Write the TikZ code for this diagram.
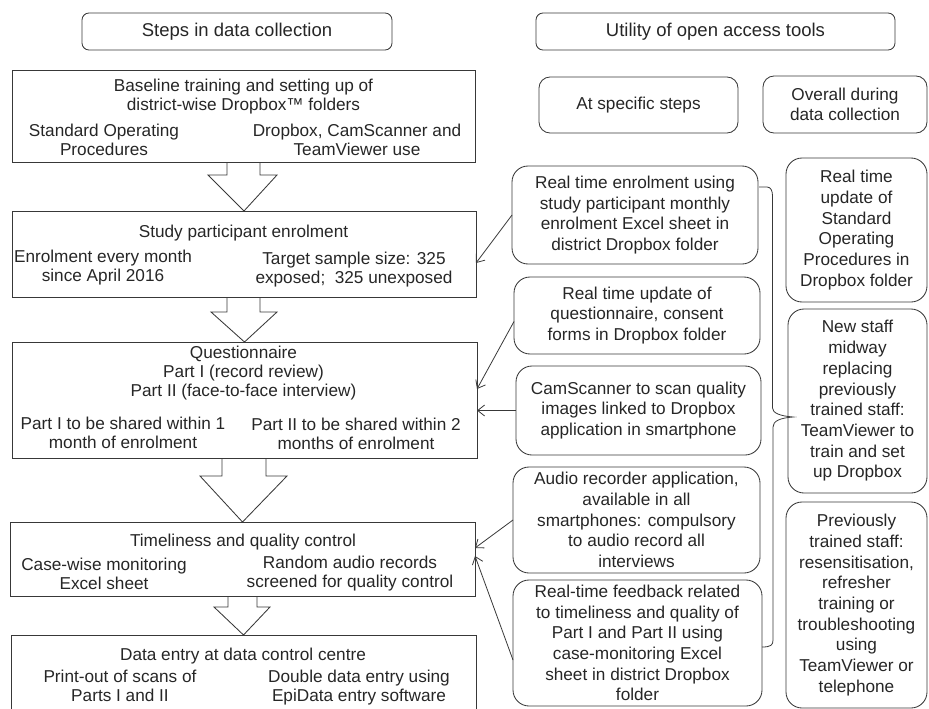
\documentclass[tikz,border=0pt]{standalone}
\usepackage{fontspec}
\setmainfont{Liberation Sans}
\usetikzlibrary{arrows.meta,calc}
\definecolor{ink}{gray}{0.15}
\definecolor{lineink}{gray}{0.22}
\begin{document}
\begin{tikzpicture}[x=1pt,y=-1pt,
  every node/.style={inner sep=0pt,outer sep=0pt,text=ink},
  hdr/.style={draw=lineink,line width=0.85pt,rounded corners=7pt,font=\fontsize{18.5}{21}\selectfont},
  lbox/.style={draw=lineink,line width=0.85pt},
  rbox/.style={draw=lineink,line width=0.85pt,rounded corners=16pt,align=center,font=\fontsize{17.2}{20.7}\selectfont},
  sbox/.style={draw=lineink,line width=0.85pt,rounded corners=11pt,align=center,font=\fontsize{17.2}{20.7}\selectfont},
  txt/.style={align=center,font=\fontsize{17.2}{19}\selectfont},
  blk/.style={draw=lineink,line width=0.85pt},
  conn/.style={draw=lineink,line width=0.8pt,-{Straight Barb[length=7pt,width=11pt]}},
  brc/.style={draw=lineink,line width=0.8pt}]
\useasboundingbox (0,0) rectangle (929,709);
\clip (0,0) rectangle (929,709);
% headers
\node[hdr,minimum width=310pt,minimum height=37pt] (h1) at (237,31.5) {Steps in data collection};
\node[hdr,minimum width=359pt,minimum height=37pt] (h2) at (715.5,31.5) {Utility of open access tools};
\node[sbox,minimum width=199pt,minimum height=56pt] (s1) at (638.5,105) {At specific steps};
\node[sbox,minimum width=164pt,minimum height=57pt] (s2) at (845,104.5) {Overall during\\data collection};
% left boxes
\node[lbox,minimum width=463pt,minimum height=92pt] (b1) at (243.5,116) {};
\node[txt] (b1t) at (243.5,96.5) {Baseline training and setting up of\\district-wise Dropbox™ folders};
\node[txt] (b1l) at (104,140) {Standard Operating\\Procedures};
\node[txt] (b1r) at (357,140) {Dropbox, CamScanner and\\TeamViewer use};
\node[lbox,minimum width=464pt,minimum height=86pt] (b2) at (244,254) {};
\node[txt] (b2t) at (243.5,233) {Study participant enrolment};
\node[txt] (b2l) at (103,267.5) {Enrolment every month\\since April 2016};
\node[txt] (b2r) at (354,270) {Target sample size: 325\\exposed;\ \ 325 unexposed};
\node[lbox,minimum width=465pt,minimum height=116pt] (b3) at (244.5,400) {};
\node[txt] (b3t) at (243.5,373) {Questionnaire\\Part I (record review)\\Part II (face-to-face interview)};
\node[txt] (b3l) at (123,432.5) {Part I to be shared within 1\\month of enrolment};
\node[txt] (b3r) at (356,433.5) {Part II to be shared within 2\\months of enrolment};
\node[lbox,minimum width=465pt,minimum height=74pt] (b4) at (242.5,559) {};
\node[txt] (b4t) at (243,542) {Timeliness and quality control};
\node[txt] (b4l) at (104,574) {Case-wise monitoring\\Excel sheet};
\node[txt] (b4r) at (350,574) {Random audio records\\screened for quality control};
\node[lbox,minimum width=465pt,minimum height=95pt] (b5) at (243.5,682.5) {};
\node[txt] (b5t) at (243,656) {Data entry at data control centre};
\node[txt] (b5l) at (120,686) {Print-out of scans of\\Parts I and II};
\node[txt] (b5r) at (359,688) {Double data entry using\\EpiData entry software};
% block arrows
\draw[blk] ($(b1.south)+(-16.5,0)$) -- ++(0,13) -- ++(-19,0) -- (b2.north) -- ($(b1.south)+(33.5,13)$) -- ++(-17,0) -- ++(0,-13);
\draw[blk] ($(b2.south)+(-17,0)$) -- ++(0,15) -- ++(-16,0) -- (b3.north) -- ($(b2.south)+(33,15)$) -- ++(-17,0) -- ++(0,-15);
\draw[blk] ($(b3.south)+(-22.5,0)$) -- ++(0,18) -- ++(-22,0) -- (b4.north) -- ($(b3.south)+(42.5,18)$) -- ++(-21,0) -- ++(0,-18);
\draw[blk] ($(b4.south)+(-14.5,0)$) -- ++(0,11) -- ++(-14,0) -- (b5.north) -- ($(b4.south)+(27.5,11)$) -- ++(-13,0) -- ++(0,-11);
% right boxes
\node[rbox,minimum width=246pt,minimum height=98pt] (r1) at (635,215) {Real time enrolment using\\study participant monthly\\enrolment Excel sheet in\\district Dropbox folder};
\node[rbox,minimum width=246pt,minimum height=77pt] (r2) at (637,315.5) {Real time update of\\questionnaire, consent\\forms in Dropbox folder};
\node[rbox,minimum width=245pt,minimum height=89pt] (r3) at (638.5,410.5) {CamScanner to scan quality\\images linked to Dropbox\\application in smartphone};
\node[rbox,minimum width=247pt,minimum height=106pt] (r4) at (636.5,520) {Audio recorder application,\\available in all\\smartphones: compulsory\\to audio record all\\interviews};
\node[rbox,minimum width=249pt,minimum height=126pt] (r5) at (637.5,643) {Real-time feedback related\\to timeliness and quality of\\Part I and Part II using\\case-monitoring Excel\\sheet in district Dropbox\\folder};
\node[rbox,minimum width=141pt,minimum height=144pt] (o1) at (856.5,230) {Real time\\update of\\Standard\\Operating\\Procedures in\\Dropbox folder};
\node[rbox,minimum width=139pt,minimum height=184pt] (o2) at (857.5,401) {New staff\\midway\\replacing\\previously\\trained staff:\\TeamViewer to\\train and set\\up Dropbox};
\node[rbox,minimum width=141pt,minimum height=206pt] (o3) at (856.5,605) {Previously\\trained staff:\\resensitisation,\\refresher\\training or\\troubleshooting\\using\\TeamViewer or\\telephone};
% connectors
\draw[conn] (r1.west) -- ($(b2.east)+(0,9)$);
\draw[conn] ($(r2.west)+(0,6)$) -- ($(b3.east)+(0,-11)$);
\draw[conn] (r3.west) -- (r3.west -| b3.east);
\draw[conn] (r4.west) -- ($(b4.east)+(0,-11)$);
\draw[conn] ($(r5.west)+(0,17)$) -- ($(b4.east)+(0,-3)$);
% brace
\coordinate (bt) at ($(r1.north east)+(1,21)$);
\coordinate (bb) at ($(r5.east)+(0,4)$);
\coordinate (tip) at ($(o2.west)+(5,16)$);
\draw[brc] (bt) -- ++(8,0) .. controls ++(4,0) and (772.5,191) .. (772.5,196) -- (772.5,408) .. controls (772.5,413) and (780,416) .. (tip)
  .. controls (780,418) and (773,421) .. (773,427) -- (773,640) .. controls (773,645) and (771,647) .. (bb);
\end{tikzpicture}
\end{document}
